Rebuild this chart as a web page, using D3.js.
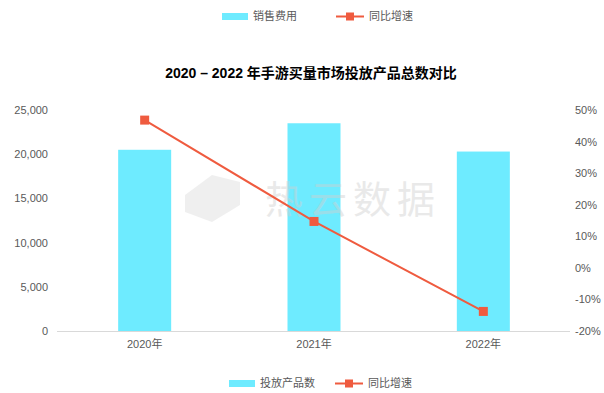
<!DOCTYPE html>
<html><head><meta charset="utf-8">
<script src="https://cdn.jsdelivr.net/npm/d3@7"></script>
<style>body{margin:0;background:#fff;}svg{display:block;font-family:"Noto Sans CJK SC","Noto Sans",sans-serif;}</style>
</head><body><svg id="c" width="604" height="393"></svg>
<script>
const categories = ["2020年","2021年","2022年"];
const products = [20500, 23500, 20300];
const growth = [46.8, 14.7, -13.8];
const leftTicks = [0,5000,10000,15000,20000,25000];
const rightTicks = [-20,-10,0,10,20,30,40,50];

const svg = d3.select("#c");
const x = d3.scaleBand().domain(categories).range([60,568]).paddingInner(0.687).paddingOuter(0.3435);
const yL = d3.scaleLinear().domain([0,25000]).range([331,110]);
const yR = d3.scaleLinear().domain([-20,50]).range([331,110]);
const barColor = "#6EEBFF", lineColor = "#EF5B3F", txt = "#595959";
const latin = "Arial,'Liberation Sans','Noto Sans CJK SC',sans-serif";

// baseline
svg.append("line").attr("x1",57).attr("x2",570).attr("y1",331.5).attr("y2",331.5).attr("stroke","#d9d9d9");

// left axis
const gl = svg.append("g").attr("transform","translate(48,0)")
  .call(d3.axisLeft(yL).tickValues(leftTicks).tickSize(0).tickPadding(0).tickFormat(d3.format(",")));
gl.select(".domain").remove();
gl.selectAll("text").attr("fill",txt).style("font-size","11px").style("font-family",latin);

// right axis
const gr = svg.append("g").attr("transform","translate(575,0)")
  .call(d3.axisRight(yR).tickValues(rightTicks).tickSize(0).tickPadding(0).tickFormat(d=>d+"%"));
gr.select(".domain").remove();
gr.selectAll("text").attr("fill",txt).style("font-size","11px").style("font-family",latin);

// x axis labels
const gx = svg.append("g").attr("transform","translate(0,340)")
  .call(d3.axisBottom(x).tickSize(0).tickPadding(0));
gx.select(".domain").remove();
gx.selectAll("text").attr("fill",txt).style("font-size","11px").style("font-family",latin).attr("dy","0.71em");

// bars
svg.selectAll("rect.bar").data(products).join("rect").attr("class","bar")
  .attr("x",(d,i)=>x(categories[i])).attr("width",x.bandwidth())
  .attr("y",d=>yL(d)).attr("height",d=>yL(0)-yL(d)).attr("fill",barColor);

// watermark
svg.append("text").attr("x",353).attr("y",213).attr("text-anchor","middle")
  .attr("fill","#d0d0d0").attr("opacity",0.45).style("font-size","38px").style("letter-spacing","6px").text("热云数据");
svg.append("path").attr("d","M185,195 L212,175 L240,182 L240,205 L212,222 L185,212 Z").attr("fill","#d0d0d0").attr("opacity",0.35);

// line
const line = d3.line().x((d,i)=>x(categories[i])+x.bandwidth()/2).y(d=>yR(d));
svg.append("path").datum(growth).attr("d",line).attr("fill","none").attr("stroke",lineColor).attr("stroke-width",2);
svg.selectAll("rect.pt").data(growth).join("rect").attr("class","pt")
  .attr("x",(d,i)=>x(categories[i])+x.bandwidth()/2-4.5).attr("y",d=>yR(d)-4.5)
  .attr("width",9).attr("height",9).attr("fill",lineColor);

// title
svg.append("text").attr("x",311).attr("y",78).attr("text-anchor","middle")
  .attr("fill","#000").style("font-size","14px").style("font-weight","bold").style("font-family",latin)
  .text("2020 – 2022 年手游买量市场投放产品总数对比");

// legends
function legend(y, rx, label1, lx, label2){
  svg.append("rect").attr("x",rx).attr("y",y-3).attr("width",26).attr("height",7).attr("fill",barColor);
  svg.append("text").attr("x",rx+31).attr("y",y+4).attr("fill",txt).style("font-size","11px").text(label1);
  svg.append("line").attr("x1",lx).attr("x2",lx+28).attr("y1",y+0.5).attr("y2",y+0.5).attr("stroke",lineColor).attr("stroke-width",2);
  svg.append("rect").attr("x",lx+10).attr("y",y-3.5).attr("width",8).attr("height",8).attr("fill",lineColor);
  svg.append("text").attr("x",lx+33).attr("y",y+4).attr("fill",txt).style("font-size","11px").text(label2);
}
legend(16, 222, "销售费用", 336, "同比增速");
legend(383, 229, "投放产品数", 335, "同比增速");
</script></body></html>
